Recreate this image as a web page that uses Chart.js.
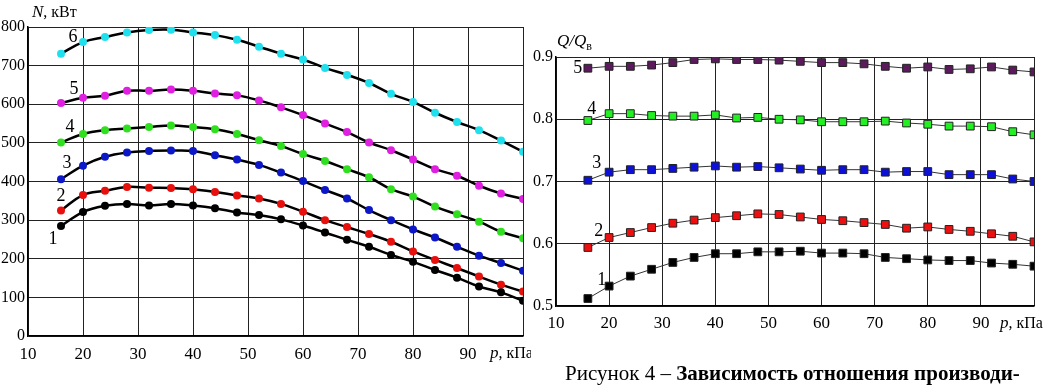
<!DOCTYPE html>
<html>
<head>
<meta charset="utf-8">
<script src="https://cdn.jsdelivr.net/npm/chart.js@4"></script>
<style>
  body { margin: 0; background: #fff; width: 1047px; height: 386px; overflow: hidden; position: relative; font-family: "Liberation Serif", serif; }
  #wrapN { position: absolute; left: 0; top: 0; width: 531px; height: 386px; }
  #wrapQ { position: absolute; left: 530px; top: 0; width: 517px; height: 386px; }
  #caption { position: absolute; left: 565px; top: 361px; font-size: 21px; white-space: nowrap; color: #000; }
</style>
</head>
<body>
<div id="wrapN"><canvas id="chartN" width="531" height="386"></canvas></div>
<div id="wrapQ"><canvas id="chartQ" width="517" height="386"></canvas></div>
<div id="caption">Рисунок 4 – <b>Зависимость отношения производи-</b></div>
<script>
// pressure, kPa
var pressure = [16, 20, 24, 28, 32, 36, 40, 44, 48, 52, 56, 60, 64, 68, 72, 76, 80, 84, 88, 92, 96, 100];

// N, kW (left chart), curves 1..6
var power1 = [285, 321, 337, 342, 338, 342, 338, 331, 320, 313, 302, 286, 268, 249, 231, 210, 192, 171, 151, 128, 113, 91];
var power2 = [325, 365, 376, 386, 384, 383, 380, 373, 364, 356, 342, 322, 300, 282, 264, 244, 219, 197, 176, 154, 133, 115];
var power3 = [406, 441, 464, 475, 479, 480, 479, 468, 457, 443, 423, 401, 378, 356, 326, 300, 276, 255, 231, 208, 189, 169];
var power4 = [501, 523, 533, 537, 541, 545, 541, 535, 523, 507, 492, 471, 453, 432, 411, 380, 361, 335, 315, 296, 270, 253];
var power5 = [603, 617, 622, 635, 635, 638, 635, 628, 623, 610, 592, 572, 550, 528, 501, 481, 457, 432, 415, 389, 369, 355];
var power6 = [731, 761, 774, 786, 792, 793, 786, 779, 767, 749, 731, 716, 694, 676, 655, 627, 606, 578, 554, 533, 506, 477];

// Q/Qв (right chart), curves 1..5
var ratio1 = [0.512, 0.532, 0.548, 0.559, 0.570, 0.578, 0.584, 0.584, 0.587, 0.587, 0.588, 0.585, 0.585, 0.584, 0.578, 0.576, 0.574, 0.573, 0.573, 0.569, 0.567, 0.564];
var ratio2 = [0.594, 0.610, 0.618, 0.626, 0.633, 0.638, 0.642, 0.645, 0.648, 0.647, 0.643, 0.639, 0.637, 0.634, 0.631, 0.625, 0.627, 0.623, 0.620, 0.616, 0.612, 0.603];
var ratio3 = [0.702, 0.715, 0.719, 0.719, 0.721, 0.723, 0.725, 0.723, 0.724, 0.722, 0.720, 0.718, 0.719, 0.719, 0.715, 0.716, 0.716, 0.711, 0.711, 0.711, 0.704, 0.700];
var ratio4 = [0.798, 0.809, 0.809, 0.806, 0.805, 0.805, 0.807, 0.802, 0.803, 0.800, 0.799, 0.796, 0.796, 0.796, 0.797, 0.794, 0.792, 0.789, 0.789, 0.788, 0.780, 0.775];
var ratio5 = [0.882, 0.885, 0.885, 0.887, 0.891, 0.896, 0.897, 0.896, 0.896, 0.895, 0.893, 0.891, 0.891, 0.889, 0.885, 0.882, 0.884, 0.880, 0.881, 0.884, 0.879, 0.876];

var powerTicks = [0, 100, 200, 300, 400, 500, 600, 700, 800];
var ratioTicks = [0.5, 0.6, 0.7, 0.8, 0.9];
var pressureTicks = [10, 20, 30, 40, 50, 60, 70, 80, 90];

var powerSeries = [power1, power2, power3, power4, power5, power6];
var powerColors = ['#000000', '#e8100c', '#0c18c8', '#30e020', '#e020e0', '#20e0ee'];
var ratioSeries = [ratio1, ratio2, ratio3, ratio4, ratio5];
var ratioColors = ['#000000', '#ee1010', '#0c10d8', '#22f022', '#5a1a5c'];

var FONT = '"Liberation Serif", "Times New Roman", serif';

function points(values) {
    return values.map(function (v, i) { return { x: pressure[i], y: v }; });
}

// draws axis titles and curve numbers
function textPlugin(id, draw) {
    return { id: id, afterDraw: function (chart) { var c = chart.ctx; c.save(); c.fillStyle = '#000'; draw(chart, c); c.restore(); } };
}

function numberLabels(chart, c, offsets) {
    c.font = '18px ' + FONT;
    c.textAlign = 'center';
    c.textBaseline = 'middle';
    chart.data.datasets.forEach(function (ds, i) {
        var p = chart.getDatasetMeta(i).data[0];
        c.fillText(String(i + 1), p.x + offsets[i][0], p.y + offsets[i][1]);
    });
}

function mixedText(c, x, y, parts) {
    parts.forEach(function (p) {
        c.font = p[1] + ' ' + FONT;
        c.fillText(p[0], x, y + (p[2] || 0));
        x += c.measureText(p[0]).width;
    });
}

var gridStyle = { color: '#222', lineWidth: 1, drawTicks: false };
var yFont = { family: FONT, size: 16 };
var xFont = { family: FONT, size: 17 };

// ---- left chart: N, kW ----
new Chart(document.getElementById('chartN'), {
    type: 'line',
    data: {
        datasets: powerSeries.map(function (s, i) {
            return {
                data: points(s),
                borderColor: '#000',
                borderWidth: 2.5,
                tension: 0.4,
                pointRadius: 4,
                pointBorderWidth: 0,
                pointBackgroundColor: powerColors[i]
            };
        })
    },
    options: {
        responsive: false,
        animation: false,
        layout: { padding: { left: 0, right: 8, top: 27, bottom: 0 } },
        plugins: { legend: { display: false }, tooltip: { enabled: false } },
        scales: {
            x: {
                type: 'linear', min: 10, max: 100,
                afterBuildTicks: function (s) { s.ticks = pressureTicks.concat([100]).map(function (v) { return { value: v }; }); },
                afterFit: function (s) { s.height = 50; },
                grid: gridStyle,
                border: { color: '#000', width: 1.5 },
                ticks: { color: '#000', font: xFont, padding: 8, maxRotation: 0,
                    callback: function (v) { return v === 100 ? '' : v; } }
            },
            y: {
                min: 0, max: 800,
                afterBuildTicks: function (s) { s.ticks = powerTicks.map(function (v) { return { value: v }; }); },
                afterFit: function (s) { s.width = 28; },
                grid: gridStyle,
                border: { color: '#000', width: 1.5 },
                ticks: { color: '#000', font: yFont, padding: 3 }
            }
        }
    },
    plugins: [textPlugin('textN', function (chart, c) {
        c.textAlign = 'left';
        c.textBaseline = 'middle';
        mixedText(c, 32, 13, [['N', 'italic 17px'], [', кВт', '16px']]);
        mixedText(c, 490, 354, [['p', 'italic 17px'], [', кПа', '16px']]);
        numberLabels(chart, c, [[-8, 13], [0, -14], [6, -16], [9, -15], [13, -14], [12, -16]]);
    })]
});

// ---- right chart: Q/Qв ----
new Chart(document.getElementById('chartQ'), {
    type: 'line',
    data: {
        datasets: ratioSeries.map(function (s, i) {
            return {
                data: points(s),
                borderColor: '#333',
                borderWidth: 1,
                tension: 0,
                pointStyle: 'rect',
                pointRadius: 5.5,
                pointBorderWidth: 1,
                pointBorderColor: '#222',
                pointBackgroundColor: ratioColors[i]
            };
        })
    },
    options: {
        responsive: false,
        animation: false,
        layout: { padding: { left: 0, right: 13, top: 57, bottom: 0 } },
        plugins: { legend: { display: false }, tooltip: { enabled: false } },
        scales: {
            x: {
                type: 'linear', min: 10, max: 100,
                afterBuildTicks: function (s) { s.ticks = pressureTicks.concat([100]).map(function (v) { return { value: v }; }); },
                afterFit: function (s) { s.height = 80; },
                grid: gridStyle,
                border: { color: '#000', width: 1.5 },
                ticks: { color: '#000', font: xFont, padding: 7, maxRotation: 0,
                    callback: function (v) { return v === 100 ? '' : v; } }
            },
            y: {
                min: 0.5, max: 0.9,
                afterBuildTicks: function (s) { s.ticks = ratioTicks.map(function (v) { return { value: v }; }); },
                afterFit: function (s) { s.width = 26; },
                grid: gridStyle,
                border: { color: '#000', width: 1.5 },
                ticks: { color: '#000', font: yFont, padding: 3,
                    callback: function (v) { return v.toFixed(1); } }
            }
        }
    },
    plugins: [textPlugin('textQ', function (chart, c) {
        c.textAlign = 'left';
        c.textBaseline = 'middle';
        mixedText(c, 27, 42, [['Q/Q', 'italic 17px'], ['в', '12px', 5]]);
        mixedText(c, 470, 324, [['p', 'italic 17px'], [', кПа', '16px']]);
        numberLabels(chart, c, [[14, -18], [11, -16], [9, -17], [4, -11], [-10, 0]]);
    })]
});
</script>
</body>
</html>
